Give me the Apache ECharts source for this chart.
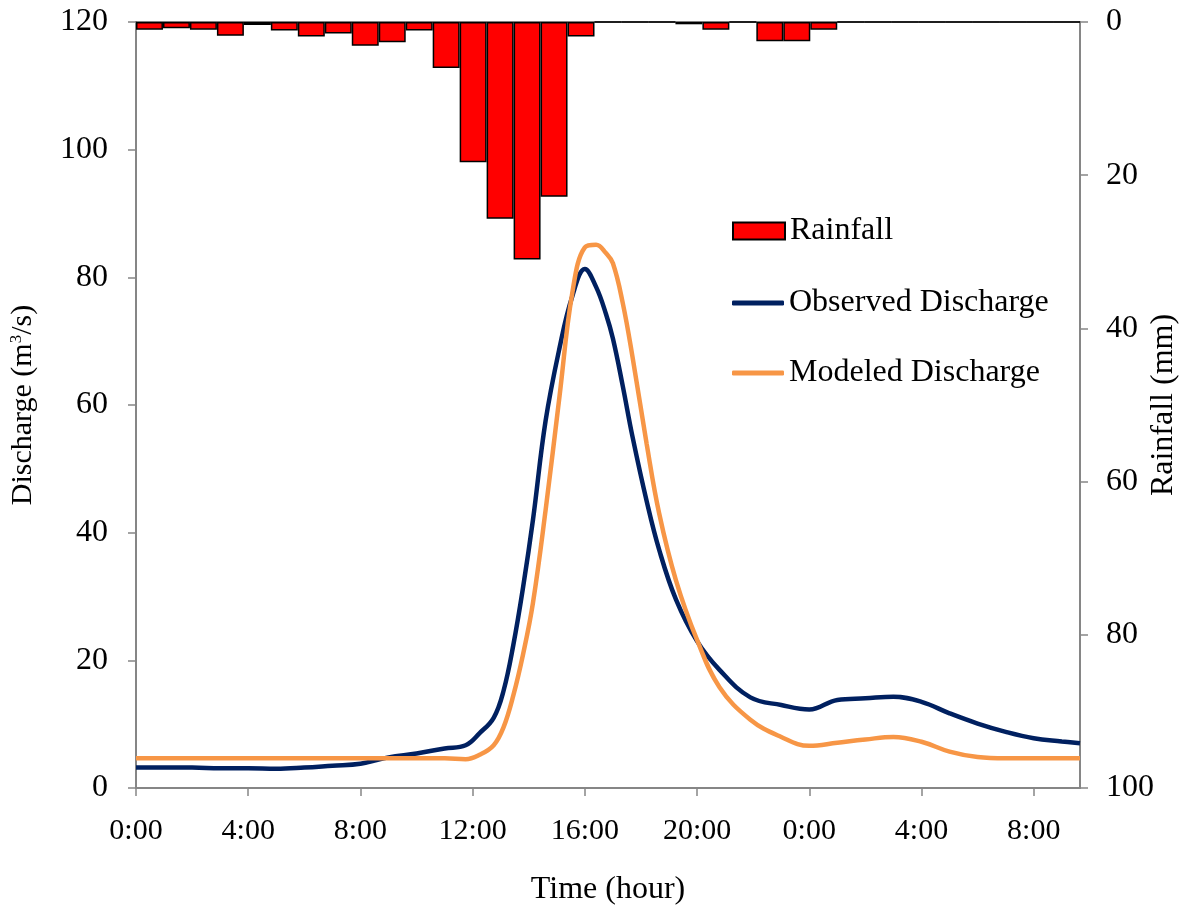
<!DOCTYPE html>
<html>
<head>
<meta charset="utf-8">
<title>Rainfall and discharge</title>
<script src="https://cdn.jsdelivr.net/npm/echarts@6.0.0/dist/echarts.min.js"></script>
<style>
  html, body { margin: 0; padding: 0; background: #fff; }
  #chart { width: 1180px; height: 907px; }
</style>
</head>
<body>
<div id="chart"></div>
<script type="text/javascript">
// time in hours since 0:00 of the first day
var hours = [0, 1, 2, 3, 4, 5, 6, 7, 8, 9, 10, 11, 11.75, 12.25, 12.75, 13.1, 13.45, 13.8, 14.15, 14.6,
             15.1, 15.55, 16, 16.4, 16.75, 17, 17.35, 17.7, 18.2, 18.65, 19.25, 20, 20.8, 21.9, 23, 24,
             25, 26, 27, 28, 29, 30, 31, 32, 33, 33.65];
var observed = [3.2, 3.2, 3.2, 3.1, 3.1, 3.0, 3.2, 3.5, 3.8, 4.8, 5.4, 6.2, 6.7, 8.6, 11.0, 15.2, 22.4, 31.5, 42, 57.5,
                69, 77, 81.3, 78.5, 74.3, 70.4, 63, 55, 45, 37.3, 29.5, 23, 18.5, 14.2, 13.0, 12.3,
                13.8, 14.05, 14.3, 13.5, 11.7, 10.1, 8.8, 7.8, 7.3, 7.0];
var modeled = [4.65, 4.65, 4.65, 4.65, 4.65, 4.65, 4.65, 4.65, 4.65, 4.65, 4.65, 4.65, 4.5, 5.2, 6.7, 9.5, 14.5, 21, 29, 43.5,
               61.5, 77.5, 84.7, 85.1, 83.8, 82.2, 76, 67.5, 54, 43, 32.5, 23.2, 15.8, 10.7, 8.0, 6.6,
               7.1, 7.6, 8.0, 7.25, 5.7, 4.85, 4.65, 4.65, 4.65, 4.65];

// rainfall per time step (mm), 35 steps across the plot
var rainSteps = [];
for (var i = 1; i <= 35; i++) rainSteps.push(String(i));
var rainfall = [1.0, 0.8, 1.0, 1.8, 0.4, 1.1, 1.9, 1.5, 3.1, 2.65, 1.1, 6.0, 18.3, 25.7, 31.0, 22.8, 1.9, 0, 0, 0,
                0.3, 1.0, 0, 2.5, 2.5, 1.0, 0, 0, 0, 0, 0, 0, 0, 0, 0];

var xTicks = ['0:00', '4:00', '8:00', '12:00', '16:00', '20:00', '0:00', '4:00', '8:00'];

function pairs(xs, ys) {
    var out = [];
    for (var i = 0; i < xs.length; i++) out.push([xs[i], ys[i]]);
    return out;
}

var font = "'Liberation Serif', 'Times New Roman', serif";
var axisGrey = '#868686';
var legendText = { fontFamily: font, fontSize: 32, color: '#000' };

var chart = echarts.init(document.getElementById('chart'));

var option = {
    animation: false,
    backgroundColor: '#ffffff',
    textStyle: { fontFamily: font, color: '#000' },
    grid: { left: 136, right: 100, top: 22, bottom: 119, containLabel: false, outerBoundsMode: 'none' },
    legend: [
        {
            left: 727, top: 210, itemWidth: 52, itemHeight: 17,
            textStyle: legendText,
            data: [{ name: 'Rainfall', icon: 'rect' }]
        },
        {
            left: 727, top: 282, itemWidth: 52, itemHeight: 5,
            textStyle: legendText,
            data: [{ name: 'Observed Discharge', icon: 'roundRect' }]
        },
        {
            left: 727, top: 352, itemWidth: 52, itemHeight: 5,
            textStyle: legendText,
            data: [{ name: 'Modeled Discharge', icon: 'roundRect' }]
        }
    ],
    xAxis: [
        {
            type: 'value',
            min: 0,
            max: 33.65,
            interval: 4,
            name: 'Time (hour)',
            nameLocation: 'middle',
            nameGap: 86,
            nameTextStyle: { fontFamily: font, fontSize: 32, color: '#000' },
            axisLine: { onZero: false, lineStyle: { color: axisGrey, width: 2 } },
            axisTick: { length: 8, lineStyle: { color: axisGrey, width: 1.5 } },
            axisLabel: {
                margin: 28,
                fontFamily: font, fontSize: 30, color: '#000',
                showMaxLabel: false,
                formatter: function (v) { return xTicks[Math.round(v / 4)] || ''; }
            },
            splitLine: { show: false }
        },
        {
            type: 'category',
            position: 'top',
            data: rainSteps,
            boundaryGap: true,
            axisLine: { onZero: false, lineStyle: { color: '#555', width: 1.5 } },
            axisTick: { show: false },
            axisLabel: { show: false },
            splitLine: { show: false }
        }
    ],
    yAxis: [
        {
            type: 'value',
            min: 0,
            max: 120,
            interval: 20,
            name: 'Discharge (m{sup|3}/s)',
            nameLocation: 'middle',
            nameRotate: 90,
            nameGap: 98,
            nameTextStyle: {
                fontFamily: font, fontSize: 30, color: '#000',
                rich: { sup: { fontFamily: font, fontSize: 17, verticalAlign: 'top', padding: [0, 0, 12, 0] } }
            },
            axisLine: { show: true, onZero: false, lineStyle: { color: axisGrey, width: 2 } },
            axisTick: { show: true, length: 8, lineStyle: { color: axisGrey, width: 1.5 } },
            axisLabel: { margin: 28, fontFamily: font, fontSize: 32, color: '#000' },
            splitLine: { show: false }
        },
        {
            type: 'value',
            position: 'right',
            inverse: true,
            min: 0,
            max: 100,
            interval: 20,
            name: 'Rainfall (mm)',
            nameLocation: 'middle',
            nameRotate: 90,
            nameGap: 68,
            nameMoveOverlap: false,
            nameTextStyle: { fontFamily: font, fontSize: 32, color: '#000' },
            axisLine: { show: true, onZero: false, lineStyle: { color: axisGrey, width: 2 } },
            axisTick: { show: true, length: 8, lineStyle: { color: axisGrey, width: 1.5 } },
            axisLabel: { margin: 26, fontFamily: font, fontSize: 32, color: '#000' },
            splitLine: { show: false }
        }
    ],
    series: [
        {
            name: 'Rainfall',
            type: 'bar',
            xAxisIndex: 1,
            yAxisIndex: 1,
            barCategoryGap: '0%',
            data: rainfall,
            itemStyle: { color: '#ff0000', borderColor: '#000', borderWidth: 1.5 }
        },
        {
            name: 'Observed Discharge',
            type: 'line',
            data: pairs(hours, observed),
            symbol: 'none',
            smooth: 0.4,
            lineStyle: { color: '#002060', width: 4.5 },
            itemStyle: { color: '#002060' }
        },
        {
            name: 'Modeled Discharge',
            type: 'line',
            data: pairs(hours, modeled),
            symbol: 'none',
            smooth: 0.4,
            lineStyle: { color: '#f79646', width: 4.5 },
            itemStyle: { color: '#f79646' }
        }
    ]
};
chart.setOption(option);
</script>
</body>
</html>
